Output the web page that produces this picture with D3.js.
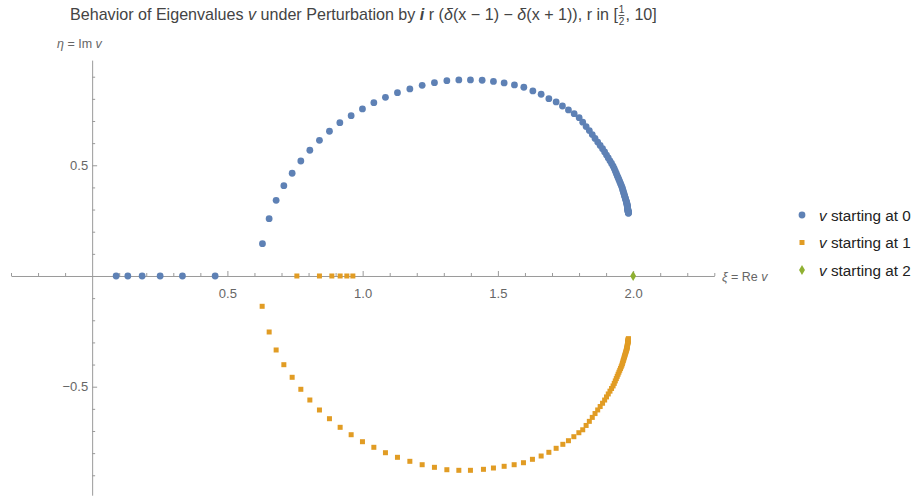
<!DOCTYPE html>
<html>
<head>
<meta charset="utf-8">
<script src="https://cdn.jsdelivr.net/npm/d3@7"></script>
<style>
  body { margin: 0; background: #fff; }
  text { font-family: "Liberation Sans", Arial, sans-serif; }
</style>
</head>
<body>
<div id="chart"></div>
<script>
// eigenvalue v starting at 0: [Re v, Im v]
const series0 = [
  [0.0887, 0], [0.1319, 0], [0.1848, 0], [0.2514, 0], [0.3338, 0], [0.4547, 0],
  [0.6296, 0.1459], [0.6543, 0.2588], [0.6802, 0.3419], [0.7087, 0.4079], [0.7394, 0.4639],
  [0.7715, 0.5194], [0.8048, 0.5678], [0.8403, 0.6129], [0.8773, 0.6536], [0.9157, 0.6924],
  [0.9575, 0.7240], [0.9993, 0.7543], [1.0414, 0.7827], [1.0843, 0.8071], [1.1287, 0.8279],
  [1.1745, 0.8446], [1.2200, 0.8613], [1.2654, 0.8731], [1.3113, 0.8821], [1.3556, 0.8853],
  [1.3985, 0.8853], [1.4418, 0.8840], [1.4835, 0.8785], [1.5231, 0.8717], [1.5612, 0.8627],
  [1.5959, 0.8523], [1.6292, 0.8356], [1.6599, 0.8207], [1.6884, 0.8008], [1.7153, 0.7859],
  [1.7386, 0.7678], [1.7608, 0.7498], [1.7819, 0.7331], [1.8004, 0.7150],
  [1.8136, 0.6945], [1.8261, 0.6750], [1.8380, 0.6565], [1.8489, 0.6386], [1.8591, 0.6213],
  [1.8689, 0.6050], [1.8781, 0.5895], [1.8869, 0.5747], [1.8946, 0.5602], [1.9015, 0.5461],
  [1.9080, 0.5328], [1.9143, 0.5201], [1.9202, 0.5080], [1.9258, 0.4965], [1.9302, 0.4850],
  [1.9340, 0.4738], [1.9377, 0.4633], [1.9411, 0.4532], [1.9444, 0.4437], [1.9475, 0.4346],
  [1.9504, 0.4260], [1.9533, 0.4178], [1.9559, 0.4100], [1.9584, 0.4026], [1.9602, 0.3953],
  [1.9619, 0.3883], [1.9635, 0.3817], [1.9651, 0.3755], [1.9666, 0.3695], [1.9679, 0.3639],
  [1.9693, 0.3585], [1.9705, 0.3534], [1.9717, 0.3485], [1.9729, 0.3440], [1.9739, 0.3396],
  [1.9750, 0.3355], [1.9759, 0.3315], [1.9768, 0.3277], [1.9773, 0.3241], [1.9777, 0.3205],
  [1.9782, 0.3172], [1.9786, 0.3141], [1.9790, 0.3111], [1.9793, 0.3082], [1.9797, 0.3055],
  [1.9800, 0.3029], [1.9803, 0.3005], [1.9806, 0.2982], [1.9809, 0.2960], [1.9812, 0.2939],
  [1.9815, 0.2919], [1.9817, 0.2900], [1.9819, 0.2882], [1.9822, 0.2865], [1.9824, 0.2849],
  [1.9826, 0.2834]
];

// eigenvalue v starting at 1
const series1 = [
  [0.9638, 0], [0.9416, 0], [0.9168, 0], [0.8861, 0], [0.8403, 0], [0.7568, 0],
  [0.6285, -0.1369], [0.6544, -0.2529], [0.6802, -0.3342], [0.7087, -0.4006], [0.7394, -0.4575],
  [0.7715, -0.5117], [0.8048, -0.5601], [0.8403, -0.6052], [0.8773, -0.6445], [0.9168, -0.6834],
  [0.9575, -0.7168], [0.9993, -0.7484], [1.0414, -0.7737], [1.0843, -0.7981], [1.1287, -0.8189],
  [1.1745, -0.8370], [1.2200, -0.8523], [1.2654, -0.8641], [1.3113, -0.8749], [1.3556, -0.8776],
  [1.3985, -0.8776], [1.4466, -0.8731], [1.4835, -0.8672], [1.5231, -0.8595], [1.5601, -0.8523],
  [1.5945, -0.8433], [1.6277, -0.8279], [1.6599, -0.8130], [1.6884, -0.7963], [1.7153, -0.7782],
  [1.7401, -0.7602], [1.7608, -0.7439], [1.7808, -0.7258], [1.7993, -0.7078],
  [1.8136, -0.6945], [1.8261, -0.6750], [1.8380, -0.6565], [1.8489, -0.6386], [1.8591, -0.6213],
  [1.8689, -0.6050], [1.8781, -0.5895], [1.8869, -0.5747], [1.8946, -0.5602], [1.9015, -0.5461],
  [1.9080, -0.5328], [1.9143, -0.5201], [1.9202, -0.5080], [1.9258, -0.4965], [1.9302, -0.4850],
  [1.9340, -0.4738], [1.9377, -0.4633], [1.9411, -0.4532], [1.9444, -0.4437], [1.9475, -0.4346],
  [1.9504, -0.4260], [1.9533, -0.4178], [1.9559, -0.4100], [1.9584, -0.4026], [1.9602, -0.3953],
  [1.9619, -0.3883], [1.9635, -0.3817], [1.9651, -0.3755], [1.9666, -0.3695], [1.9679, -0.3639],
  [1.9693, -0.3585], [1.9705, -0.3534], [1.9717, -0.3485], [1.9729, -0.3440], [1.9739, -0.3396],
  [1.9750, -0.3355], [1.9759, -0.3315], [1.9768, -0.3277], [1.9773, -0.3241], [1.9777, -0.3205],
  [1.9782, -0.3172], [1.9786, -0.3141], [1.9790, -0.3111], [1.9793, -0.3082], [1.9797, -0.3055],
  [1.9800, -0.3029], [1.9803, -0.3005], [1.9806, -0.2982], [1.9809, -0.2960], [1.9812, -0.2939],
  [1.9815, -0.2919], [1.9817, -0.2900], [1.9819, -0.2882], [1.9822, -0.2865], [1.9824, -0.2849],
  [1.9826, -0.2834]
];

// eigenvalue v starting at 2 (stays put)
const series2 = [[2.0, 0]];

const xMajor = [0.5, 1.0, 1.5, 2.0];
const yMajor = [-0.5, 0.5];
const xMinor = [-0.3, -0.2, -0.1, 0.1, 0.2, 0.3, 0.4, 0.6, 0.7, 0.8, 0.9, 1.1, 1.2, 1.3, 1.4,
  1.6, 1.7, 1.8, 1.9, 2.1, 2.2, 2.3];
const yMinor = [-0.9, -0.8, -0.7, -0.6, -0.4, -0.3, -0.2, -0.1, 0.1, 0.2, 0.3, 0.4,
  0.6, 0.7, 0.8, 0.9];
const legendLabels = ["starting at 0", "starting at 1", "starting at 2"];
const colors = ["#5e81b5", "#e19c24", "#8fb032"];

const width = 917;
const height = 500;
const font = '"Liberation Sans", Arial, sans-serif';

const svg = d3
  .select("#chart")
  .append("svg")
  .attr("width", width)
  .attr("height", height);

const x = d3.scaleLinear().domain([-0.3, 2.3]).range([11, 714.3]);
const y = d3.scaleLinear().domain([-0.99, 0.975]).range([495.2, 60.1]);

const axisColor = "#9a9a9a";
const labelColor = "#666";

// x axis
const gx = svg.append("g").attr("transform", `translate(0,${y(0)})`);
gx.append("g")
  .call(d3.axisBottom(x).tickValues(xMinor).tickSizeInner(-3).tickSizeOuter(0).tickFormat(""))
  .call((g) => g.select(".domain").remove());
gx.append("g")
  .call(d3.axisBottom(x).tickValues(xMajor).tickSizeInner(-5).tickSizeOuter(0)
    .tickPadding(13).tickFormat(d3.format(".1f")))
  .call((g) => g.select(".domain").attr("stroke", axisColor));

// y axis
const gy = svg.append("g").attr("transform", `translate(${x(0)},0)`);
gy.append("g")
  .call(d3.axisLeft(y).tickValues(yMinor).tickSizeInner(-3).tickSizeOuter(0).tickFormat(""))
  .call((g) => g.select(".domain").remove());
gy.append("g")
  .call(d3.axisLeft(y).tickValues(yMajor).tickSizeInner(-5).tickSizeOuter(0)
    .tickPadding(4).tickFormat((d) => d3.format(".1f")(d).replace("-", "\u2212\u2009")))
  .call((g) => g.select(".domain").attr("stroke", axisColor));

svg.selectAll(".tick line").attr("stroke", axisColor);
svg.selectAll(".tick text")
  .attr("fill", labelColor)
  .attr("font-size", 13)
  .style("font-family", font);

// axis labels
const yl = svg.append("text").attr("x", 57).attr("y", 48)
  .attr("font-size", 12.5).attr("fill", labelColor);
yl.append("tspan").attr("font-style", "italic").text("\u03b7");
yl.append("tspan").text(" = Im ");
yl.append("tspan").attr("font-style", "italic").text("v");

const xl = svg.append("text").attr("x", 722).attr("y", 280.5)
  .attr("font-size", 12.5).attr("fill", labelColor);
xl.append("tspan").attr("font-style", "italic").text("\u03be");
xl.append("tspan").text(" = Re ");
xl.append("tspan").attr("font-style", "italic").text("v");

// points
const plot = svg.append("g");
plot.append("g")
  .selectAll("circle")
  .data(series0)
  .join("circle")
  .attr("cx", (d) => x(d[0]))
  .attr("cy", (d) => y(d[1]))
  .attr("r", 3.4)
  .attr("fill", colors[0]);

plot.append("g")
  .selectAll("rect")
  .data(series1)
  .join("rect")
  .attr("x", (d) => x(d[0]) - 2.5)
  .attr("y", (d) => y(d[1]) - 2.5)
  .attr("width", 5)
  .attr("height", 5)
  .attr("fill", colors[1]);

plot.append("g")
  .selectAll("path")
  .data(series2)
  .join("path")
  .attr("transform", (d) => `translate(${x(d[0])},${y(d[1])})`)
  .attr("d", d3.symbol(d3.symbolDiamond, 30))
  .attr("fill", colors[2]);

// title
const tSize = 16.1;
const title = svg.append("text").attr("x", 70).attr("y", 20)
  .attr("font-size", tSize).attr("fill", "#444");
title.append("tspan").text("Behavior of Eigenvalues ");
title.append("tspan").attr("font-style", "italic").text("v");
title.append("tspan").text(" under Perturbation by ");
title.append("tspan").attr("font-style", "italic").attr("font-weight", "bold").text("i");
title.append("tspan").text(" r (");
title.append("tspan").attr("font-style", "italic").text("\u03b4");
title.append("tspan").text("(x \u2212 1) \u2212 ");
title.append("tspan").attr("font-style", "italic").text("\u03b4");
title.append("tspan").text("(x + 1)), r in [");
const tw = title.node().getComputedTextLength();
const fx = 70 + tw + 3.5;
svg.append("text").attr("x", fx).attr("y", 13).attr("text-anchor", "middle")
  .attr("font-size", 10).attr("fill", "#444").text("1");
svg.append("line").attr("x1", fx - 3).attr("x2", fx + 3).attr("y1", 15.5).attr("y2", 15.5)
  .attr("stroke", "#444").attr("stroke-width", 0.9);
svg.append("text").attr("x", fx).attr("y", 24.5).attr("text-anchor", "middle")
  .attr("font-size", 10).attr("fill", "#444").text("2");
svg.append("text").attr("x", fx + 4).attr("y", 20)
  .attr("font-size", tSize).attr("fill", "#444").text(", 10]");

// legend
const legend = svg.append("g").attr("transform", "translate(802,0)");
const rows = [215, 242.5, 270];
legend.append("circle").attr("cx", 0).attr("cy", rows[0]).attr("r", 3.4).attr("fill", colors[0]);
legend.append("rect").attr("x", -2.5).attr("y", rows[1] - 2.5).attr("width", 5).attr("height", 5)
  .attr("fill", colors[1]);
legend.append("path").attr("transform", `translate(0,${rows[2]})`)
  .attr("d", d3.symbol(d3.symbolDiamond, 30)).attr("fill", colors[2]);
legendLabels.forEach((lab, i) => {
  const t = legend.append("text").attr("x", 17).attr("y", rows[i] + 5.5)
    .attr("font-size", 15.3).attr("fill", "#222");
  t.append("tspan").attr("font-style", "italic").text("v");
  t.append("tspan").text(" " + lab);
});
</script>
</body>
</html>
